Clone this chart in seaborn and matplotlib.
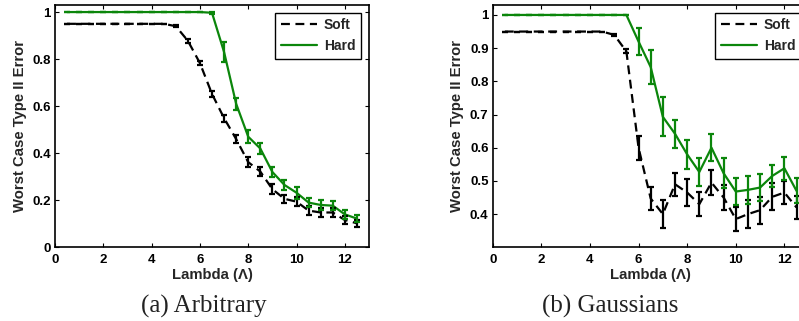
import numpy as np
import pandas as pd
import matplotlib
matplotlib.use("Agg")
import matplotlib.pyplot as plt
import seaborn as sns

lam = [0.5, 1, 1.5, 2, 2.5, 3, 3.5, 4, 4.5, 5, 5.5, 6, 6.5, 7, 7.5, 8, 8.5, 9, 9.5, 10, 10.5, 11, 11.5, 12, 12.5]

# (a) Arbitrary
arb_soft = [0.95, 0.95, 0.95, 0.95, 0.95, 0.95, 0.95, 0.95, 0.95, 0.94, 0.878, 0.783, 0.652, 0.549, 0.46,
            0.362, 0.322, 0.247, 0.206, 0.194, 0.156, 0.148, 0.148, 0.116, 0.102]
arb_soft_err = [0, 0, 0, 0, 0, 0, 0, 0, 0, 0.004, 0.008, 0.008, 0.012, 0.015, 0.018,
                0.02, 0.018, 0.02, 0.018, 0.018, 0.02, 0.02, 0.02, 0.016, 0.015]
arb_hard = [1, 1, 1, 1, 1, 1, 1, 1, 1, 1, 1, 1, 0.997, 0.83, 0.61,
            0.47, 0.42, 0.32, 0.265, 0.232, 0.19, 0.18, 0.177, 0.14, 0.122]
arb_hard_err = [0, 0, 0, 0, 0, 0, 0, 0, 0, 0, 0, 0, 0.004, 0.042, 0.025,
                0.027, 0.022, 0.022, 0.022, 0.026, 0.02, 0.022, 0.02, 0.02, 0.016]

# (b) Gaussians
gau_soft = [0.95, 0.95, 0.95, 0.95, 0.95, 0.95, 0.95, 0.95, 0.95, 0.94, 0.89, 0.60, 0.447, 0.40, 0.49,
            0.465, 0.43, 0.495, 0.45, 0.385, 0.40, 0.412, 0.452, 0.465, 0.42]
gau_soft_err = [0, 0, 0, 0, 0, 0, 0, 0, 0, 0.004, 0.006, 0.036, 0.036, 0.041, 0.035,
                0.04, 0.037, 0.037, 0.037, 0.035, 0.042, 0.041, 0.041, 0.034, 0.036]
gau_hard = [1, 1, 1, 1, 1, 1, 1, 1, 1, 1, 1, 0.92, 0.843, 0.693, 0.642,
            0.58, 0.527, 0.60, 0.523, 0.468, 0.473, 0.48, 0.515, 0.538, 0.47]
gau_hard_err = [0, 0, 0, 0, 0, 0, 0, 0, 0, 0, 0, 0.04, 0.052, 0.059, 0.042,
                0.043, 0.041, 0.04, 0.045, 0.04, 0.043, 0.042, 0.034, 0.034, 0.038]

x_ticks = [0, 2, 4, 6, 8, 10, 12]
y_ticks_a = [0, 0.2, 0.4, 0.6, 0.8, 1]
y_ticks_b = [0.4, 0.5, 0.6, 0.7, 0.8, 0.9, 1]
y_tick_labels_a = ["0", "0.2", "0.4", "0.6", "0.8", "1"]
y_tick_labels_b = ["0.4", "0.5", "0.6", "0.7", "0.8", "0.9", "1"]
captions = ["(a) Arbitrary", "(b) Gaussians"]

sns.set_style("white")
plt.rcParams['font.family'] = ['Liberation Sans', 'DejaVu Sans']

GREEN = '#0b860b'
fig = plt.figure(figsize=(7.99, 3.21), dpi=100)
ax1 = fig.add_axes([55/799, 1-247.3/321, 314/799, 242.3/321])
ax2 = fig.add_axes([492.7/799, 1-247.3/321, 316/799, 242.3/321])


def draw(ax, soft, soft_err, hard, hard_err, ylim, yticks, ylabels):
    df = pd.DataFrame({"lam": lam * 2,
                       "err": list(soft) + list(hard),
                       "kind": ["Soft"] * len(lam) + ["Hard"] * len(lam)})
    sns.lineplot(data=df, x="lam", y="err", hue="kind", style="kind",
                 palette={"Soft": "black", "Hard": GREEN},
                 dashes={"Soft": (4, 2.5), "Hard": ""}, linewidth=1.6, ax=ax)
    ax.errorbar(lam, soft, yerr=soft_err, fmt='none', ecolor='black',
                elinewidth=1.6, capsize=2, capthick=1.6)
    ax.errorbar(lam, hard, yerr=hard_err, fmt='none', ecolor=GREEN,
                elinewidth=1.6, capsize=2, capthick=1.6)
    ax.set_xlim(0, 13)
    ax.set_ylim(*ylim)
    ax.set_xticks(x_ticks)
    ax.set_xticklabels([str(t) for t in x_ticks], fontweight='bold', fontsize=9.5)
    ax.set_yticks(yticks)
    ax.set_yticklabels(ylabels, fontweight='bold', fontsize=9.5)
    ax.tick_params(direction='in', length=3, width=0.8, top=True, right=True,
                   bottom=True, left=True, colors='black')
    ax.tick_params(axis='x', pad=5)
    ax.tick_params(axis='y', pad=3)
    ax.set_xlabel("Lambda (Λ)", fontweight='bold', fontsize=10.7, labelpad=1)
    ax.set_ylabel("Worst Case Type II Error", fontweight='bold', fontsize=10.7, labelpad=4)
    for s in ax.spines.values():
        s.set_color('black')
        s.set_linewidth(1.2)
    h, l = ax.get_legend_handles_labels()
    order = [l.index("Soft"), l.index("Hard")]
    leg = ax.legend([h[i] for i in order], [l[i] for i in order],
                    loc='upper right', bbox_to_anchor=(0.997, 0.997),
                    fancybox=False, framealpha=1, edgecolor='black',
                    prop={'weight': 'bold', 'size': 10}, handlelength=2.6,
                    borderpad=0.4, labelspacing=0.5, handletextpad=0.5)
    leg.get_frame().set_linewidth(1.0)


draw(ax1, arb_soft, arb_soft_err, arb_hard, arb_hard_err, (0, 1.03), y_ticks_a, y_tick_labels_a)
draw(ax2, gau_soft, gau_soft_err, gau_hard, gau_hard_err, (0.3, 1.03), y_ticks_b, y_tick_labels_b)

fig.text(204/799, 1-306/321, captions[0], ha='center', va='center',
         fontsize=18, family=['Liberation Serif', 'DejaVu Serif'], color='#222222')
fig.text(610/799, 1-306/321, captions[1], ha='center', va='center',
         fontsize=18, family=['Liberation Serif', 'DejaVu Serif'], color='#222222')

fig.savefig("out.png", dpi=100)
